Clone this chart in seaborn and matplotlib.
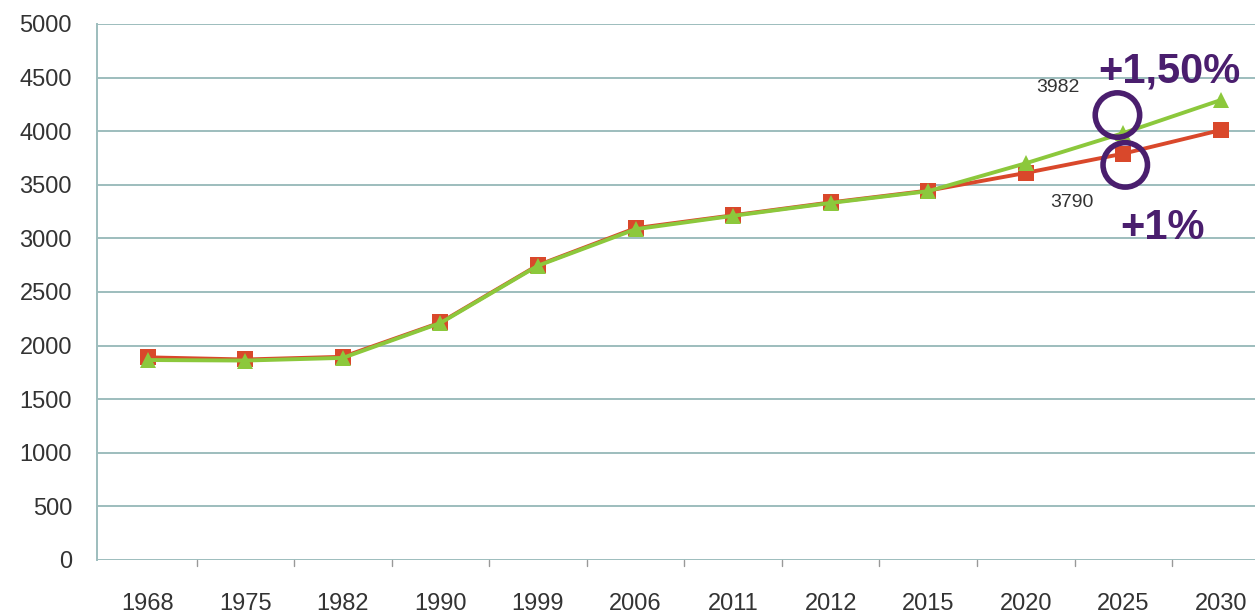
import matplotlib
matplotlib.use("Agg")
import matplotlib.pyplot as plt
import seaborn as sns
import pandas as pd

years = ["1968", "1975", "1982", "1990", "1999", "2006", "2011", "2012", "2015", "2020", "2025", "2030"]
series_1pct = [1890, 1870, 1895, 2215, 2750, 3095, 3215, 3335, 3445, 3610, 3790, 4010]
series_150pct = [1865, 1860, 1885, 2210, 2745, 3085, 3210, 3330, 3440, 3700, 3982, 4290]
yticks = list(range(0, 5001, 500))

label_3982 = "3982"
label_3790 = "3790"
label_hi = "+1,50%"
label_lo = "+1%"

sns.set_theme(style="white")
plt.rcParams['font.family'] = ['Liberation Sans', 'DejaVu Sans']

fig = plt.figure(figsize=(12.55, 6.13), dpi=100)
ax = fig.add_axes([0.0773, 0.0865, 0.9227, 0.8745])

df = pd.DataFrame({"year": years + years,
                   "value": series_1pct + series_150pct,
                   "serie": ["+1%"] * len(years) + ["+1,50%"] * len(years)})

red = "#D9482B"
green = "#8CC83C"
sns.lineplot(data=df[df.serie == "+1%"], x="year", y="value", color=red, lw=2.8,
             marker="s", markersize=11, markeredgewidth=0, ax=ax, sort=False)
sns.lineplot(data=df[df.serie == "+1,50%"], x="year", y="value", color=green, lw=2.8,
             marker="^", markersize=11, markeredgewidth=0, ax=ax, sort=False)

ax.set_ylim(0, 5000)
ax.set_xlim(-0.52, 11.35)
ax.set_yticks(yticks)
ax.set_xlabel("")
ax.set_ylabel("")
grid_c = "#9DBDBD"
for v in yticks:
    ax.axhline(v, color=grid_c, lw=1.4, zorder=0)
for s in ["top", "right", "bottom"]:
    ax.spines[s].set_visible(False)
ax.spines["left"].set_color(grid_c)
ax.spines["left"].set_linewidth(1.4)

ax.tick_params(axis="y", length=0, pad=18, labelsize=17, labelcolor="#333333")
ax.tick_params(axis="x", length=0, pad=24, labelsize=17, labelcolor="#333333")
# small ticks between categories
for k in range(len(years)):
    ax.plot([k + 0.5, k + 0.5], [0, -60], color="#999999", lw=1, clip_on=False)

purple = "#4A1E6E"
circles_x = [9.94, 10.02]
circles_y = [4150, 3685]
ax.scatter(circles_x, circles_y, s=(32) ** 2, facecolors="none", edgecolors=purple,
           linewidths=4, zorder=5)
ax.text(9.33, 4403, label_3982, fontsize=14, color="#333333", ha="center", va="center")
ax.text(9.47, 3330, label_3790, fontsize=14, color="#333333", ha="center", va="center")
ax.text(10.47, 4560, label_hi, fontsize=30, fontweight="bold", color=purple, ha="center", va="center")
ax.text(10.4, 3100, label_lo, fontsize=30, fontweight="bold", color=purple, ha="center", va="center")

fig.savefig("out.png", dpi=100)
